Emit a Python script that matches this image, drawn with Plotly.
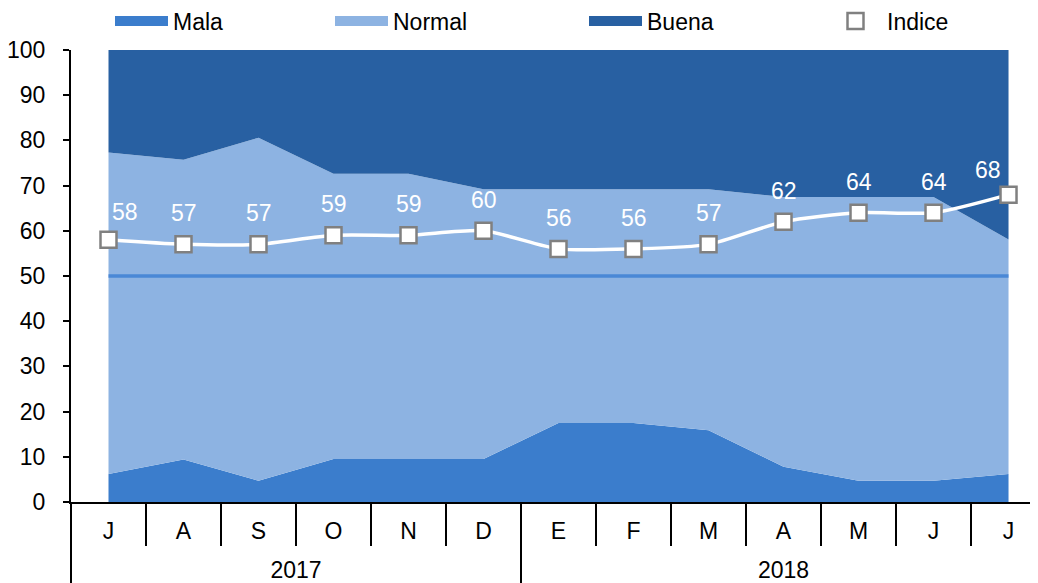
import plotly.graph_objects as go

months = ["J", "A", "S", "O", "N", "D", "E", "F", "M", "A", "M", "J", "J"]
years = ["2017", "2018"]
year_counts = [6, 7]

mala = [6.2, 9.4, 4.7, 9.5, 9.5, 9.5, 17.5, 17.5, 15.9, 7.8, 4.7, 4.7, 6.2]
normal = [71.1, 66.3, 75.9, 63.1, 63.1, 59.7, 51.7, 51.7, 53.3, 59.7, 62.8, 62.8, 51.9]
buena = [22.7, 24.3, 19.4, 27.4, 27.4, 30.8, 30.8, 30.8, 30.8, 32.5, 32.5, 32.5, 41.9]
indice = [58, 57, 57, 59, 59, 60, 56, 56, 57, 62, 64, 64, 68]
ref_value = 50

C_MALA = "#3b7dcc"
C_NORMAL = "#8db3e2"
C_BUENA = "#2860a2"
C_REF = "#4a88d6"
FONT = "Liberation Sans, Arial, sans-serif"
FS = 23

# the page has an 8px body margin, so the figure is drawn 8px in from the top-left
W, H = 1030, 575

n = len(months)
idx = list(range(n))
xr = [-0.5, n - 0.5 - 0.107]

# year group centres and boundaries (derived from counts)
year_centres, year_bounds = [], [-0.5]
start = 0
for c in year_counts:
    year_centres.append(start + (c - 1) / 2)
    start += c
    year_bounds.append(start - 0.5)

fig = go.Figure()
for name, vals, col in [("Mala", mala, C_MALA), ("Normal", normal, C_NORMAL), ("Buena", buena, C_BUENA)]:
    fig.add_trace(go.Scatter(x=idx, y=vals, name=name, stackgroup="one", mode="lines",
                             line=dict(width=0, color=col), fillcolor=col, showlegend=False,
                             hoverinfo="skip"))

# legend entries (one legend each so they can be placed like the original)
for name, col, lg in [("Mala", C_MALA, "legend"), ("Normal", C_NORMAL, "legend2"), ("Buena", C_BUENA, "legend3")]:
    fig.add_trace(go.Scatter(x=[None], y=[None], name=name, mode="lines", showlegend=True,
                             line=dict(width=12, color=col), legend=lg))

fig.add_trace(go.Scatter(x=idx, y=[ref_value] * n, mode="lines", line=dict(color=C_REF, width=3.5),
                         showlegend=False, hoverinfo="skip"))

fig.add_trace(go.Scatter(x=idx, y=indice, name="Indice", mode="lines+markers", legend="legend4",
                         showlegend=True,
                         line=dict(color="white", width=3.5, shape="spline", smoothing=0.7),
                         marker=dict(symbol="square", size=16, color="white",
                                     line=dict(color="#808080", width=2.5))))

# empty trace to carry the year axis
fig.add_trace(go.Scatter(x=[None], y=[None], xaxis="x2", showlegend=False, hoverinfo="skip"))

for i, v in enumerate(indice):
    xs, ys = 0, 31
    if i == 0:
        xs, ys = 16, 28
    if i == n - 1:
        xs, ys = -21, 25
    fig.add_annotation(x=i, y=v, text=str(v), showarrow=False, xshift=xs, yshift=ys,
                       font=dict(color="white", size=FS, family=FONT))

leg_common = dict(orientation="h", xref="container", yref="container", y=1 - 13 / H,
                  xanchor="left", yanchor="middle", itemwidth=53, font=dict(size=FS),
                  bgcolor="rgba(0,0,0,0)")

fig.update_layout(
    width=W, height=H,
    showlegend=True,
    margin=dict(l=63, r=0, t=42, b=0, autoexpand=False),
    plot_bgcolor="white", paper_bgcolor="white",
    font=dict(family=FONT, size=FS, color="black"),
    legend=dict(x=102 / W, **leg_common),
    legend2=dict(x=322 / W, **leg_common),
    legend3=dict(x=576 / W, **leg_common),
    legend4=dict(x=816 / W, **leg_common),
    xaxis=dict(range=xr, tickmode="array", tickvals=idx, ticktext=months, ticks="",
               showline=True, linecolor="black", linewidth=2,
               minor=dict(tickvals=[i - 0.5 for i in range(n + 1)], ticks="outside",
                          ticklen=42, tickwidth=2, tickcolor="black", showgrid=False),
               ticklabelstandoff=7, tickfont=dict(size=FS), showgrid=False, zeroline=False,
               automargin=False),
    xaxis2=dict(range=xr, overlaying="x", anchor="free", position=0, side="top",
                tickmode="array", tickvals=year_centres, ticktext=years, ticks="",
                showline=False, showgrid=False, zeroline=False,
                minor=dict(tickvals=year_bounds, ticks="outside", ticklen=81, tickwidth=2,
                           tickcolor="black", showgrid=False),
                ticklabelstandoff=0, tickfont=dict(size=FS), automargin=False),
    yaxis=dict(range=[0, 100], dtick=10, domain=[81 / (H - 42), 1], showline=True,
               linecolor="black", linewidth=2, ticks="outside", ticklen=6, tickwidth=2,
               tickcolor="black", tickfont=dict(size=FS), showgrid=False, zeroline=False,
               ticklabelstandoff=13, automargin=False),
)

fig.write_html("out.html")
